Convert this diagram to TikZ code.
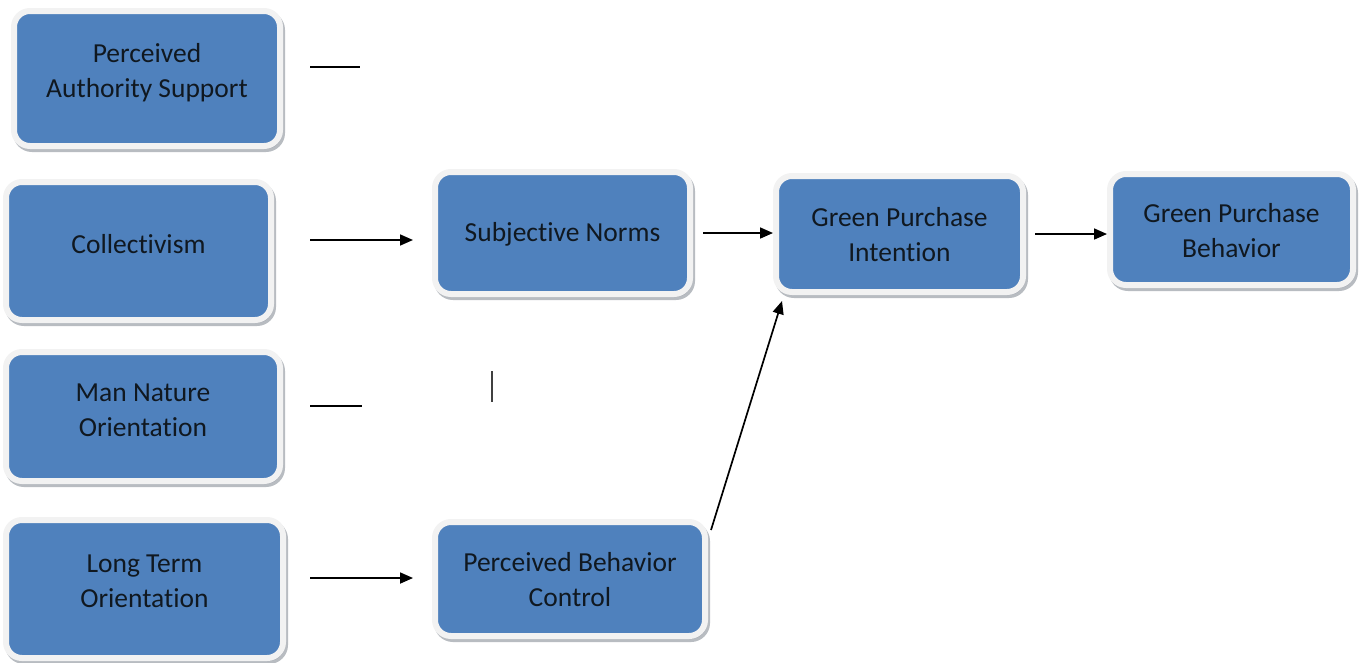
\documentclass[tikz,border=0pt]{standalone}
\usepackage{fontspec}
\setmainfont{Carlito}[RawFeature={-liga}]
\usetikzlibrary{arrows.meta,shadows}
\definecolor{boxblue}{HTML}{4F81BD}
\definecolor{boxrim}{HTML}{F2F2F2}
\definecolor{shadowgray}{HTML}{A6ABB2}
\definecolor{txt}{HTML}{101820}
\tikzset{
  box/.style={draw=boxrim, line width=6pt, fill=boxblue, rounded corners=16pt,
    inner sep=0pt,
    drop shadow={shadow xshift=2pt, shadow yshift=-3pt, fill=shadowgray, draw=shadowgray, line width=6pt, opacity=0.8}},
  lbl/.style={text=txt, align=center, inner sep=0pt, font=\fontsize{27.5}{35}\selectfont},
  ln/.style={line width=1.7pt, black},
  arr/.style={line width=1.7pt, black, -{Triangle[length=13pt,width=11pt]}}
}
\begin{document}
\begin{tikzpicture}[x=1pt,y=-1pt]
\useasboundingbox (0,0) rectangle (1359,662);
% left column
\node[box, minimum width=266pt, minimum height=135pt] (pas) at (147,78.5) {};
\node[lbl] (pas-t) at ([yshift=6pt]pas.center) {Perceived\\Authority Support};
\node[box, minimum width=265pt, minimum height=138pt] (col) at (138.5,251) {};
\node[lbl] (col-t) at ([yshift=7pt]col.center) {Collectivism};
\node[box, minimum width=274pt, minimum height=129pt] (mno) at (143,416.5) {};
\node[lbl] (mno-t) at ([yshift=6pt]mno.center) {Man Nature\\Orientation};
\node[box, minimum width=277pt, minimum height=138pt] (lto) at (144.5,589) {};
\node[lbl] (lto-t) at ([yshift=8pt]lto.center) {Long Term\\Orientation};
% middle
\node[box, minimum width=255pt, minimum height=122pt] (sn) at (562.5,233) {};
\node[lbl] (sn-t) at ([yshift=-1pt]sn.center) {Subjective Norms};
\node[box, minimum width=270pt, minimum height=114pt] (pbc) at (570,579) {};
\node[lbl] (pbc-t) at ([yshift=-1pt]pbc.center) {Perceived Behavior\\Control};
% right
\node[box, minimum width=247pt, minimum height=116pt] (gpi) at (899.5,234) {};
\node[lbl] (gpi-t) at ([yshift=-1pt]gpi.center) {Green Purchase\\Intention};
\node[box, minimum width=243pt, minimum height=111pt] (gpb) at (1231.5,229.5) {};
\node[lbl] (gpb-t) at ([yshift=-1pt]gpb.center) {Green Purchase\\Behavior};
% free coordinates
\coordinate (p1) at (310,67);
\coordinate (p2) at (360,67);
\coordinate (c1) at (310,240);
\coordinate (c2) at (413,240);
\coordinate (m1) at (310,406);
\coordinate (m2) at (362,406);
\coordinate (v1) at (492,371);
\coordinate (v2) at (492,402);
\coordinate (l1) at (310,578);
\coordinate (l2) at (413,578);
% connectors
\draw[ln] (p1) -- (p2);
\draw[arr] (c1) -- (c2);
\draw[ln] (m1) -- (m2);
\draw[line width=1.2pt, black!75] (v1) -- (v2);
\draw[arr] (l1) -- (l2);
\draw[arr] ([xshift=10pt]sn.east) -- (gpi.west |- sn.east);
\draw[arr] ([xshift=9pt]gpi.east) -- (gpb.west |- gpi.east);
\draw[arr] ([xshift=3pt,yshift=-11pt]pbc.north east) -- ([xshift=9pt,yshift=-6pt]gpi.south west);
\end{tikzpicture}
\end{document}
